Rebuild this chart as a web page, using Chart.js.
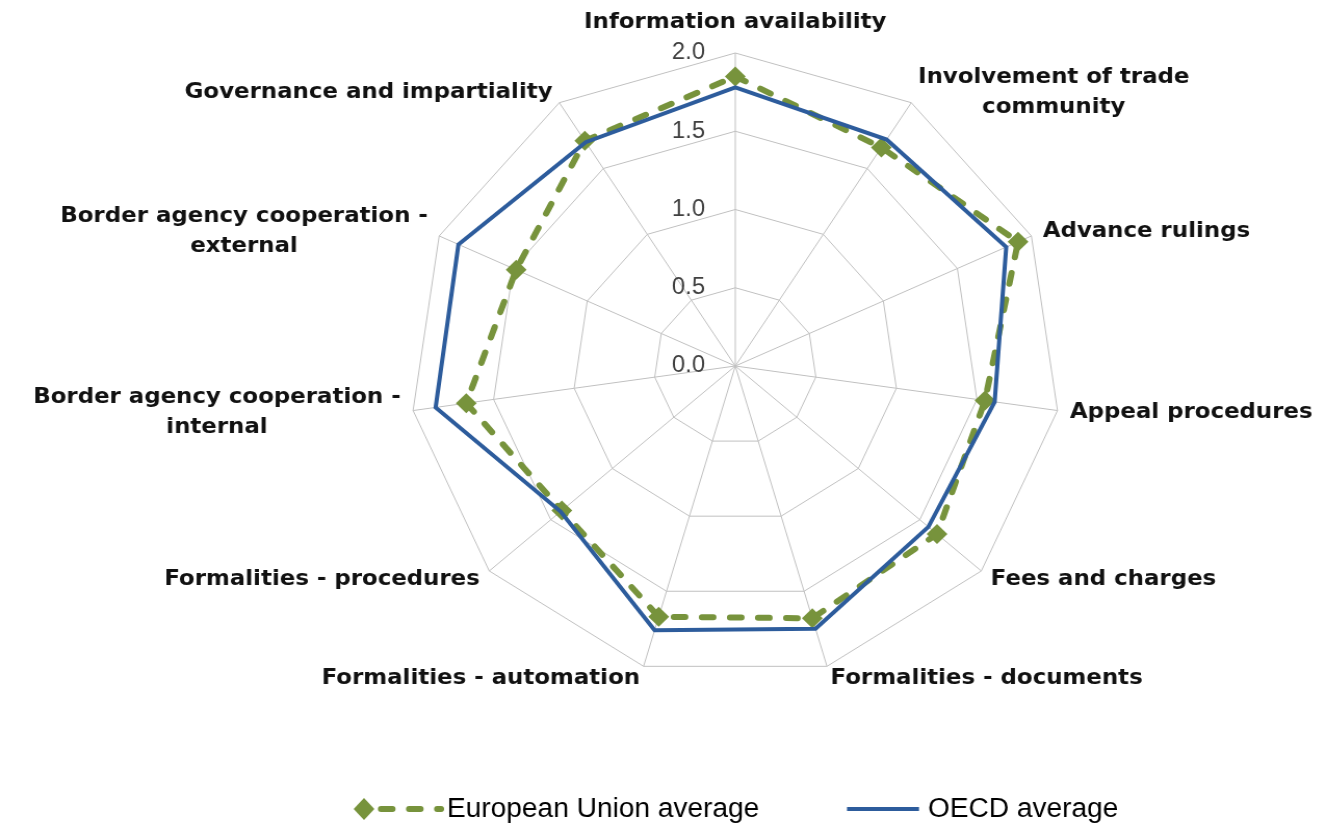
<!DOCTYPE html>
<html>
<head>
<meta charset="utf-8">
<script src="https://cdn.jsdelivr.net/npm/chart.js@4/dist/chart.umd.min.js"></script>
<style>
  html, body { margin: 0; padding: 0; background: #fff; overflow: hidden; }
  /* the original picture is a little wider than tall, so stretch the canvas */
  #wrap { width: 1277px; height: 823px; transform: scaleX(1.04); transform-origin: 0 0; }
</style>
</head>
<body>
<div id="wrap"><canvas id="radar" width="1277" height="823"></canvas></div>
<script>
'use strict';

// ---- data ----
const categories = [
  'Information availability',
  ['Involvement of trade', 'community'],
  'Advance rulings',
  'Appeal procedures',
  'Fees and charges',
  'Formalities - documents',
  'Formalities - automation',
  'Formalities - procedures',
  ['Border agency cooperation -', 'internal'],
  ['Border agency cooperation -', 'external'],
  'Governance and impartiality'
];
const euAverage   = [1.85, 1.66, 1.91, 1.55, 1.64, 1.68, 1.67, 1.41, 1.67, 1.48, 1.71];
const oecdAverage = [1.78, 1.72, 1.83, 1.61, 1.57, 1.75, 1.76, 1.42, 1.86, 1.87, 1.70];
const tickValues  = [0, 0.5, 1.0, 1.5, 2.0];
const seriesNames = ['European Union average', 'OECD average'];

const STRETCH = 1.04;
const GREEN = '#77933C';
const BLUE = '#2D5C9C';
const GRID = '#C0C0C0';

// axis labels and tick numbers are drawn by hand so the radius stays put
const axisText = {
  id: 'axisText',
  afterDatasetsDraw(chart) {
    const sc = chart.scales.r;
    const ctx = chart.ctx;
    ctx.save();
    // tick numbers, right-aligned just left of the vertical spoke
    ctx.font = '23px "Liberation Sans", Arial, sans-serif';
    ctx.fillStyle = '#404040';
    ctx.textAlign = 'right';
    ctx.textBaseline = 'middle';
    tickValues.forEach(v => {
      const y = sc.yCenter - sc.getDistanceFromCenterForValue(v);
      ctx.fillText(v.toFixed(1), sc.xCenter - 29, y);
    });

    // category labels
    ctx.font = 'bold 22px "DejaVu Sans", sans-serif';
    ctx.fillStyle = '#111';
    ctx.textAlign = 'center';
    const n = categories.length;
    categories.forEach((lab, i) => {
      const lines = Array.isArray(lab) ? lab : [lab];
      const ang = i * 2 * Math.PI / n;
      const s = Math.sin(ang);
      const top = Math.abs(s) < 0.01;
      const p = sc.getPointPosition(i, sc.drawingArea + (top ? 31 : 12));
      const w = Math.max(...lines.map(t => ctx.measureText(t).width));
      let cx = p.x;
      if (s > 0.01) cx = p.x + w / 2;
      else if (s < -0.01) cx = p.x - w / 2;
      const lh = 30;
      const y0 = p.y - (lines.length - 1) * lh / 2;
      lines.forEach((t, k) => ctx.fillText(t, cx, y0 + k * lh));
    });
    ctx.restore();
  }
};

// legend at the bottom: diamond + dashes for EU, plain line for OECD
const bottomLegend = {
  id: 'bottomLegend',
  afterDraw(chart) {
    const ctx = chart.ctx;
    const X = x => x / STRETCH;
    const y = 809;
    ctx.save();
    ctx.lineWidth = 6;
    ctx.strokeStyle = GREEN;
    ctx.lineCap = 'round';
    ctx.setLineDash([11, 16]);
    ctx.beginPath();
    ctx.moveTo(X(381), y);
    ctx.lineTo(X(441), y);
    ctx.stroke();
    ctx.setLineDash([]);
    ctx.fillStyle = GREEN;
    ctx.beginPath();
    ctx.moveTo(X(364), y - 11);
    ctx.lineTo(X(364) + 10, y);
    ctx.lineTo(X(364), y + 11);
    ctx.lineTo(X(364) - 10, y);
    ctx.closePath();
    ctx.fill();

    ctx.lineCap = 'butt';
    ctx.lineWidth = 4;
    ctx.strokeStyle = BLUE;
    ctx.beginPath();
    ctx.moveTo(X(847), y);
    ctx.lineTo(X(919), y);
    ctx.stroke();

    ctx.font = '27px "Liberation Sans", Arial, sans-serif';
    ctx.fillStyle = '#000';
    ctx.textAlign = 'left';
    ctx.textBaseline = 'middle';
    ctx.fillText(seriesNames[0], X(447), y + 1);
    ctx.fillText(seriesNames[1], X(928), y + 1);
    ctx.restore();
  }
};

new Chart(document.getElementById('radar'), {
  type: 'radar',
  data: {
    labels: categories,
    datasets: [
      {
        label: seriesNames[0], data: euAverage, order: 1,
        borderColor: GREEN, backgroundColor: GREEN, borderWidth: 6,
        borderDash: [11, 16], borderCapStyle: 'round', fill: false,
        pointStyle: 'rectRot', pointRadius: 10, pointBorderWidth: 0,
        pointBackgroundColor: GREEN
      },
      {
        label: seriesNames[1], data: oecdAverage, order: 0,
        borderColor: BLUE, borderWidth: 4, fill: false, pointRadius: 0
      }
    ]
  },
  options: {
    responsive: false,
    animation: false,
    layout: { padding: { top: 53, bottom: 144, left: 137, right: 0 } },
    plugins: { legend: { display: false }, tooltip: { enabled: false } },
    elements: { line: { tension: 0 } },
    scales: {
      r: {
        min: 0, max: 2,
        ticks: { display: false, stepSize: 0.5 },
        grid: { color: GRID, lineWidth: 1 },
        angleLines: { color: GRID, lineWidth: 1 },
        pointLabels: { display: false }
      }
    }
  },
  plugins: [axisText, bottomLegend]
});
</script>
</body>
</html>
